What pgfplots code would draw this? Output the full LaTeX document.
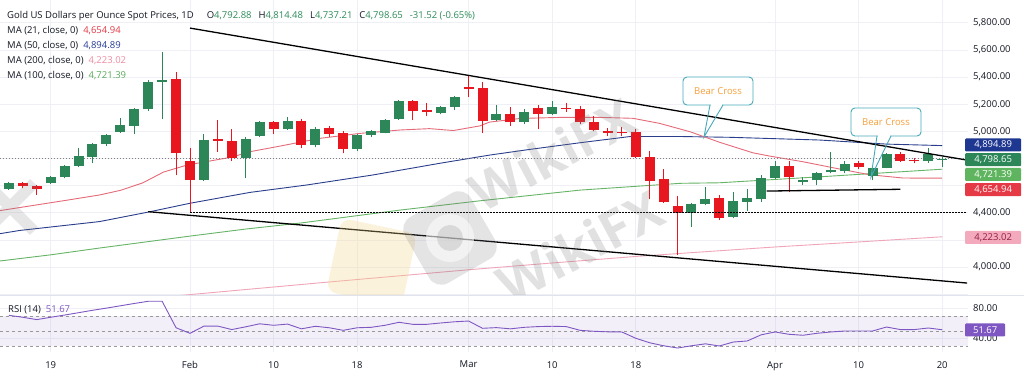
\documentclass[border=0pt]{standalone}
\usepackage{fontspec}
\setmainfont{Open Sans}
\usepackage{pgfplots}
\pgfplotsset{compat=1.18}
\usepackage{pgfplotstable}

\definecolor{upc}{RGB}{44,134,88}
\definecolor{dnc}{RGB}{232,22,30}
\definecolor{ma21}{RGB}{229,107,120}
\definecolor{ma50}{RGB}{42,62,140}
\definecolor{ma200}{RGB}{240,165,185}
\definecolor{ma100}{RGB}{102,180,102}
\definecolor{rsic}{RGB}{126,87,194}
\definecolor{gridc}{RGB}{238,240,246}
\definecolor{sepc}{RGB}{224,227,235}
\definecolor{txt}{RGB}{19,23,34}
\definecolor{tealc}{RGB}{70,170,185}
\definecolor{orng}{RGB}{245,160,60}
\definecolor{hval}{RGB}{46,140,90}
\definecolor{v21}{RGB}{229,57,70}
\definecolor{v50}{RGB}{40,60,150}
\definecolor{v200}{RGB}{240,140,160}
\definecolor{v100}{RGB}{90,170,90}
\definecolor{tag50}{RGB}{30,55,145}
\definecolor{tagcur}{RGB}{44,134,88}
\definecolor{tag100}{RGB}{95,180,95}
\definecolor{tag21}{RGB}{229,57,70}
\definecolor{tag200}{RGB}{242,170,188}
\definecolor{txt200}{RGB}{150,30,70}
\definecolor{wmark}{RGB}{120,120,120}
\definecolor{wlogo}{RGB}{245,215,140}

\newcommand\tickfont{\fontsize{9.5}{11}\selectfont}
\newcommand\hfont{\fontsize{9.5}{11}\selectfont}

\pgfplotstableread{
i o h l c
-3 4575 4630 4570 4621
0 4617 4671 4612 4663
1 4661 4752 4654 4747
2 4744 4875 4739 4818
3 4813 4916 4764 4906
4 4904 4980 4892 4973
5 4997 5096 4990 5044
6 5041 5174 4980 5167
7 5162 5378 5152 5361
8 5363 5587 5091 5380
11 4641 4978 4636 4936
14 4801 4955 4654 4943
15 4968 5076 4960 5066
17 5017 5108 5012 5076
19 4899 5034 4882 5017
22 4867 4980 4855 4973
23 4973 5010 4960 5000
24 4990 5090 4985 5083
25 5091 5230 5085 5225
28 5137 5188 5125 5181
29 5181 5260 5157 5250
32 5083 5194 5078 5125
34 5066 5165 5055 5140
36 5127 5225 5120 5177
46 4400 4470 4297 4462
47 4462 4592 4455 4499
49 4371 4550 4360 4486
50 4481 4573 4413 4506
51 4499 4678 4481 4658
52 4658 4783 4650 4747
54 4630 4666 4604 4640
55 4641 4703 4604 4695
56 4703 4850 4690 4713
57 4707 4783 4690 4757
59 4673 4740 4641 4732
60 4732 4838 4727 4833
63 4779 4875 4770 4830
64 4792.88 4814.48 4737.21 4798.65
}\upcandles

\pgfplotstableread{
i o h l c
-2 4621 4625 4580 4597
-1 4599 4605 4531 4575
9 5383 5435 4678 4838
10 4783 4875 4400 4641
12 4940 5083 4850 4930
13 4928 5015 4783 4801
16 5071 5075 4980 5017
18 5076 5088 4875 4899
20 5022 5041 4956 4980
21 4990 5000 4838 4867
26 5225 5232 5083 5150
27 5157 5206 5113 5140
30 5329 5415 5255 5314
31 5319 5365 4990 5078
33 5125 5181 5041 5066
35 5169 5194 5015 5127
37 5174 5206 5144 5165
38 5165 5186 5055 5066
39 5071 5113 5000 5010
40 5000 5022 4965 4990
41 4998 5030 4965 4988
42 4997 5015 4800 4808
43 4813 4855 4499 4636
44 4646 4722 4474 4481
45 4452 4523 4088 4396
48 4506 4530 4345 4363
53 4747 4783 4550 4666
58 4764 4783 4720 4739
61 4833 4850 4775 4781
62 4788 4805 4764 4780
}\dncandles

\pgfplotstableread{
i r
-3 70.9
-2 68.3
-1 65.2
0 68.3
1 71.3
2 74.4
3 77.6
4 80.5
5 83.6
6 86.7
7 89.6
8 89.6
9 54.3
10 46.9
11 56.5
12 56.5
13 51.9
14 55.6
15 59.6
16 57.6
17 59.2
18 52.9
19 56.3
20 54.3
21 50.9
22 54.3
23 54.9
24 57.6
25 61.6
26 58.9
27 58.9
28 60.7
29 62.3
30 63.3
31 53.6
32 54.5
33 52.9
34 54.9
35 55.9
36 56.3
37 55.9
38 50.9
39 49.6
40 48.9
41 48.7
42 40.3
43 34.3
44 30.3
45 27.3
46 30.3
47 32.9
48 30.0
49 35.3
50 36.7
51 44.9
52 48.7
53 45.6
54 44.3
55 46.9
56 48.7
57 50.0
58 50.0
59 50.0
60 55.3
61 51.9
62 51.9
63 54.0
64 51.67
}\rsitable

\pgfplotsset{candle/.style={only marks, mark=*, mark size=0pt, mark options={draw=none, fill=none},
  error bars/.cd, y dir=plus, y explicit, error mark=none}}

\begin{document}
\begin{tikzpicture}
\useasboundingbox (0pt,0pt) rectangle (1024pt,379pt);
\fill[white] (0pt,0pt) rectangle (1024pt,379pt);

\begin{axis}[
  name=main,
  at={(0pt,84pt)}, anchor=south west, scale only axis,
  width=968pt, height=295pt,
  xmin=-3.64, xmax=65.85, ymin=3794, ymax=5968,
  axis line style={draw=none}, major tick length=0pt,
  xtick={0,10,16,22,30,36,42,52,58,64}, xticklabels={},
  ytick={3800,4000,4200,4400,4600,4800,5000,5200,5400,5600,5800},
  yticklabel pos=right,
  yticklabels={{},{4,000.00},{},{4,400.00},{},{},{5,000.00},{5,200.00},{5,400.00},{5,600.00},{5,800.00}},
  yticklabel style={font=\tickfont, text=txt, anchor=west, inner sep=0pt, xshift=5pt},
  grid=major, grid style={gridc, line width=0.7pt},
]
% moving averages
\addplot[ma200, line width=0.9pt] coordinates {(8,3778) (10,3797) (20,3890) (30,3980) (36,4030) (42,4078) (52,4148) (58,4185) (64,4223)};
\addplot[ma100, line width=0.9pt] coordinates {(-3.7,4044) (0,4090) (3.5,4140) (10,4228) (14,4280) (17.9,4324) (25.1,4420) (30.8,4488) (38,4567) (45.2,4617) (48,4621) (55.2,4665) (64,4721)};
\addplot[ma50, line width=0.9pt] coordinates {(-3.7,4245) (-2.2,4270) (3.5,4335) (7,4405) (10,4470) (14.3,4550) (18.4,4605) (23.1,4678) (27.9,4764) (31.5,4825) (34.4,4867) (38,4916) (41.6,4962) (45.2,4962) (48.8,4956) (55.2,4936) (60,4906) (64,4895)};
\addplot[ma21, line width=0.9pt] coordinates {(-3.7,4415) (-1,4458) (1,4490) (3.5,4531) (5,4565) (6.6,4620) (8.1,4700) (9.8,4752) (13,4810) (14.3,4850) (16.5,4892) (19.3,4948) (22.2,4985) (25.1,5010) (27.2,5020) (28.9,5006) (30.8,5040) (31.5,5068) (33.7,5095) (36.6,5103) (39.4,5103) (41.8,5096) (43.7,5059) (45.9,4997) (48,4920) (50.4,4842) (51.6,4818) (54,4776) (56.4,4727) (58.8,4680) (61.2,4656) (64,4655)};
% current price line
\addplot[gray, line width=0.7pt, dash pattern=on 1pt off 2pt] coordinates {(-3.64,4798.65) (65.85,4798.65)};
% candles: wicks
\addplot[candle, error bar style={solid, line width=1pt, draw=upc}]
  table[x=i, y=l, y error expr=\thisrow{h}-\thisrow{l}] {\upcandles};
\addplot[candle, error bar style={solid, line width=1pt, draw=dnc}]
  table[x=i, y=l, y error expr=\thisrow{h}-\thisrow{l}] {\dncandles};
% candles: bodies
\addplot[candle, error bar style={solid, line width=10pt, draw=upc}]
  table[x=i, y=o, y error expr=\thisrow{c}-\thisrow{o}] {\upcandles};
\addplot[candle, error bar style={solid, line width=10pt, draw=dnc}]
  table[x=i, y=c, y error expr=\thisrow{o}-\thisrow{c}] {\dncandles};
% drawings
\addplot[black, line width=1.3pt] coordinates {(10,5761) (65.78,4788)};
\addplot[black, line width=1.3pt] coordinates {(7,4408) (65.78,3882)};
\addplot[black, line width=1.3pt] coordinates {(51.4,4560) (61,4573)};
\addplot[black, line width=1.3pt, dash pattern=on 1.5pt off 1.5pt] coordinates {(10,4400) (65.7,4400)};
\end{axis}

\begin{axis}[
  name=rsi,
  at={(0pt,27pt)}, anchor=south west, scale only axis,
  width=968pt, height=56pt,
  xmin=-3.64, xmax=65.85, ymin=22, ymax=96.67,
  axis line style={draw=none}, major tick length=0pt,
  xtick={0,10,16,22,30,36,42,52,58,64},
  xticklabels={19,Feb,10,18,Mar,10,18,Apr,10,20},
  xticklabel style={font=\tickfont, text=txt, inner sep=0pt, yshift=-9pt},
  ytick={40,80}, yticklabel pos=right,
  yticklabels={{40.00},{80.00}},
  yticklabel style={font=\tickfont, text=txt, anchor=west, inner sep=0pt, xshift=5pt},
  grid=major, grid style={gridc, line width=0.7pt},
]
\addplot[draw=none, fill=rsic, fill opacity=0.09] coordinates {(-3.64,30) (65.85,30) (65.85,70) (-3.64,70)} -- cycle;
\addplot[gray!80, line width=0.7pt, dash pattern=on 3pt off 3pt] coordinates {(-3.64,70) (65.85,70)};
\addplot[gray!80, line width=0.7pt, dash pattern=on 3pt off 3pt] coordinates {(-3.64,50) (65.85,50)};
\addplot[gray!80, line width=0.7pt, dash pattern=on 3pt off 3pt] coordinates {(-3.64,30) (65.85,30)};
\addplot[rsic, line width=0.9pt] table[x=i, y=r] {\rsitable};
\end{axis}

\begin{scope}[x=1pt, y=1pt]
% watermark (faint)
\begin{scope}
\clip (0,84) rectangle (968,379);
\fill[wlogo, opacity=0.3, rounded corners=10pt, rotate around={-12:(371,116)}] (333,79) rectangle (410,154);
\fill[wmark, opacity=0.2, rounded corners=14pt, rotate around={30:(450,141)}] (412,103) rectangle (488,179);
\fill[white, opacity=0.55] (450,141) circle (24);
\fill[wmark, opacity=0.2] (450,141) circle (13);
\node[font=\fontsize{52}{52}\selectfont\bfseries, text=wmark, text opacity=0.22, rotate=28] at (552,225) {WikiFX};
\node[font=\fontsize{52}{52}\selectfont\bfseries, text=wmark, text opacity=0.22, rotate=28] at (580,133) {WikiFX};
\draw[wmark, opacity=0.18, line width=11pt] (-14,148) -- (34,196) (-14,196) -- (34,148);
\end{scope}
% pane separator
\draw[sepc, line width=0.8pt] (0,83.5) -- (1024,83.5);

% legend texts
\node[anchor=base west, inner sep=0pt, font=\hfont, text=txt] at (7,360) {Gold US Dollars per Ounce Spot Prices, 1D\hspace{13pt}O\textcolor{hval}{4,792.88}\hspace{7pt}H\textcolor{hval}{4,814.48}\hspace{7pt}L\textcolor{hval}{4,737.21}\hspace{7pt}C\textcolor{hval}{4,798.65}\hspace{7pt}\textcolor{hval}{-31.52 (-0.65\%)}};
\node[anchor=base west, inner sep=0pt, font=\hfont, text=txt] at (7,345) {MA (21, close, 0)\hspace{5pt}\textcolor{v21}{4,654.94}};
\node[anchor=base west, inner sep=0pt, font=\hfont, text=txt] at (7,330.5) {MA (50, close, 0)\hspace{5pt}\textcolor{v50}{4,894.89}};
\node[anchor=base west, inner sep=0pt, font=\hfont, text=txt] at (7,315) {MA (200, close, 0)\hspace{5pt}\textcolor{v200}{4,223.02}};
\node[anchor=base west, inner sep=0pt, font=\hfont, text=txt] at (7,300) {MA (100, close, 0)\hspace{5pt}\textcolor{v100}{4,721.39}};
\node[anchor=base west, inner sep=0pt, font=\hfont, text=txt] at (8,66) {RSI (14)\hspace{5pt}\textcolor{rsic}{51.67}};

% callouts
\filldraw[fill=white, draw=tealc, line width=0.9pt, rounded corners=4pt] (683,274) rectangle (753,302);
\draw[white, line width=1.4pt] (710.6,274) -- (722.4,274);
\draw[tealc, line width=0.9pt] (710,274) -- (704,242) -- (723,274);
\node[font=\hfont, text=orng] at (718,288) {Bear Cross};
\filldraw[fill=white, draw=tealc, line width=0.9pt, rounded corners=4pt] (851,243) rectangle (921,271);
\draw[white, line width=1.4pt] (877.6,243) -- (890.4,243);
\draw[tealc, line width=0.9pt] (877,243) -- (871,202) -- (891,243);
\node[font=\hfont, text=orng] at (886,257) {Bear Cross};

% price tags
\node[fill=tag50, text=white, font=\tickfont, inner sep=0pt, minimum width=56pt, minimum height=13pt, anchor=west, rounded corners=1pt] at (965,234) {4,894.89};
\node[fill=tagcur, text=white, font=\tickfont, inner sep=0pt, minimum width=56pt, minimum height=13pt, anchor=west, rounded corners=1pt] at (965,219.3) {4,798.65};
\node[fill=tag100, text=white, font=\tickfont, inner sep=0pt, minimum width=56pt, minimum height=13pt, anchor=west, rounded corners=1pt] at (965,204.5) {4,721.39};
\node[fill=tag21, text=white, font=\tickfont, inner sep=0pt, minimum width=56pt, minimum height=13pt, anchor=west, rounded corners=1pt] at (965,189.3) {4,654.94};
\node[fill=tag200, text=txt200, font=\tickfont, inner sep=0pt, minimum width=56pt, minimum height=13pt, anchor=west, rounded corners=1pt] at (965,141.5) {4,223.02};
\node[fill=rsic, text=white, font=\tickfont, inner sep=0pt, minimum width=40pt, minimum height=13pt, anchor=west, rounded corners=1pt] at (965,49) {51.67};
\end{scope}
\end{tikzpicture}
\end{document}
